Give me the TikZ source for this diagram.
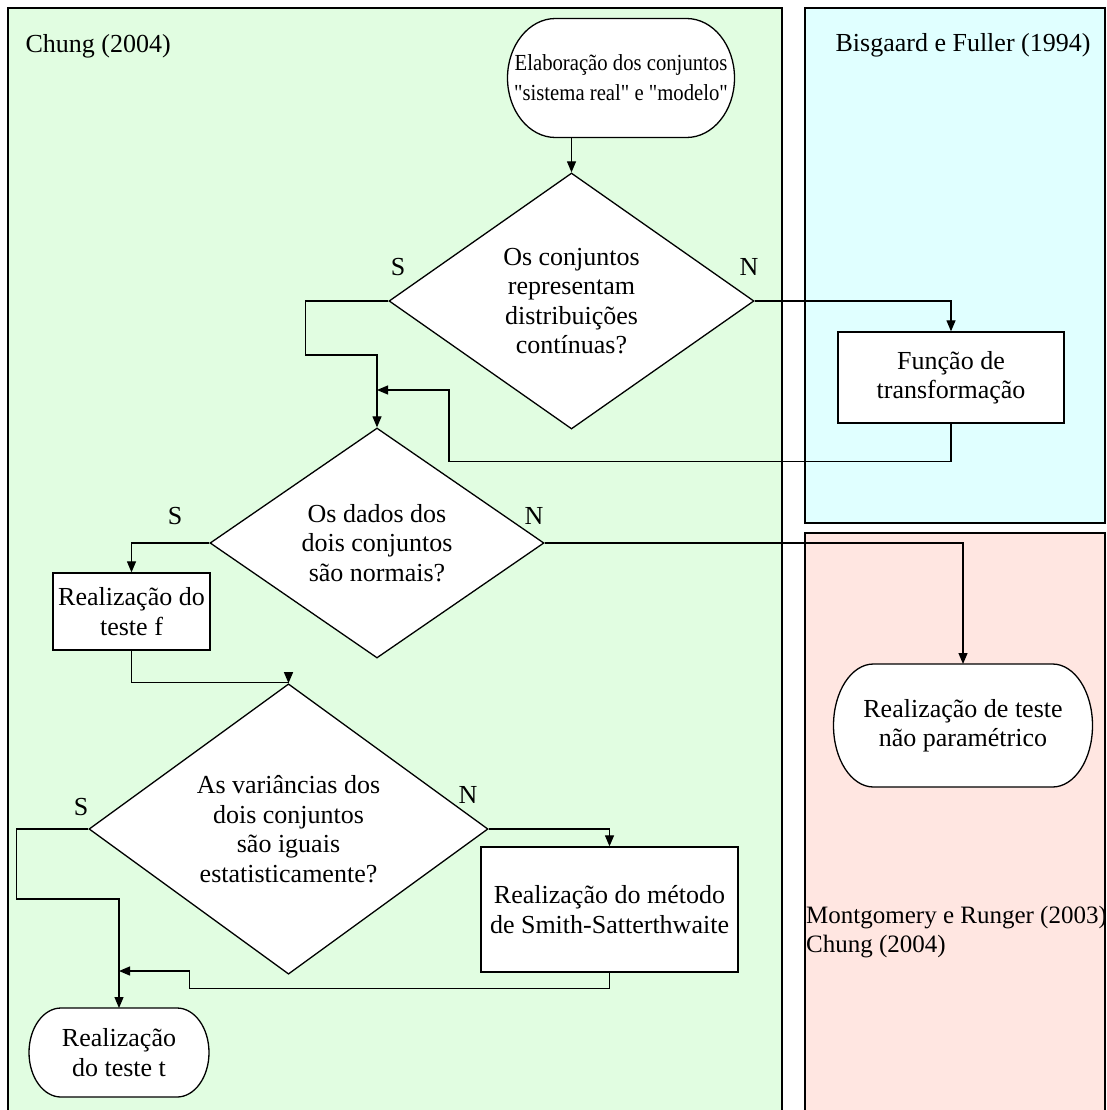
\documentclass[tikz,border=0pt]{standalone}
\usepackage{fontspec}
\setmainfont{Liberation Serif}[Ligatures=TeXOff]
\usetikzlibrary{arrows.meta,shapes.geometric}

\definecolor{panelgreen}{RGB}{225,253,225}
\definecolor{panelcyan}{RGB}{224,255,255}
\definecolor{panelpink}{RGB}{255,230,225}

\begin{document}
\begin{tikzpicture}[x=1pt,y=-1pt,
  every node/.style={font=\fontsize{26}{29.5}\selectfont},
  panel/.style={draw=black, line width=1.4pt},
  decision/.style={diamond, draw, fill=white, line width=1.3pt, inner sep=0pt, align=center},
  process/.style={rectangle, draw, fill=white, line width=1.3pt, inner sep=0pt, align=center},
  % terminator: width, height, horizontal radius of the elliptic ends
  terminal/.style n args={3}{rectangle, inner sep=0pt, outer sep=-1pt, align=center,
    minimum width=#1pt+2pt, minimum height=#2pt+2pt,
    path picture={
      \pgfmathsetmacro{\termry}{#2/2}
      \draw[fill=white, line width=1.3pt]
        ([xshift=#3pt+1pt, yshift=-1pt]path picture bounding box.north west)
        -- ([xshift=-#3pt-1pt, yshift=-1pt]path picture bounding box.north east)
        arc[start angle=90, end angle=-90, x radius=#3pt, y radius=\termry pt]
        -- ([xshift=#3pt+1pt, yshift=1pt]path picture bounding box.south west)
        arc[start angle=270, end angle=90, x radius=#3pt, y radius=\termry pt]
        -- cycle;
    }},
  flow/.style={line width=1.2pt, -{Triangle[length=11pt,width=9pt]}},
  answer/.style={inner sep=0pt},
]
\clip (0,0) rectangle (1106,1110);
\fill[white] (0,0) rectangle (1106,1110);

% swim lanes
\draw[panel, fill=panelgreen] (8,1130) -- (8,8) -- (782,8) -- (782,1130);
\draw[panel, fill=panelcyan] (805,8) rectangle (1105,523);
\draw[panel, fill=panelpink] (805,1130) -- (805,533) -- (1105,533) -- (1105,1130);

\node[anchor=west] (lblchung) at (22,46) {Chung (2004)};
\node (lblbis) at (963,45) {Bisgaard e Fuller (1994)};
\node[anchor=north west, align=left, inner sep=0pt, font=\fontsize{25}{29}\selectfont] (lblmont) at (806,906) {Montgomery e Runger (2003)\\Chung (2004)};

% flow elements
\node[terminal={227}{119}{48}, font=\fontsize{23}{30}\selectfont] (start) at (621,78) {\scalebox{0.9}[1]{Elaboração dos conjuntos}\\\scalebox{0.9}[1]{"sistema real" e "modelo"}};
\node[decision, minimum width=365pt, minimum height=256pt] (d1) at (571.5,301) {Os conjuntos\\representam\\distribuições\\contínuas?};
\node[process, minimum width=226pt, minimum height=91pt] (func) at (951,377.5) {Função de\\transformação};
\node[decision, minimum width=334pt, minimum height=230pt] (d2) at (377,543) {Os dados dos\\dois conjuntos\\são normais?};
\node[process, minimum width=157pt, minimum height=77pt] (boxf) at (131.5,611.5) {Realização do\\teste f};
\node[terminal={259}{123}{40}] (np) at (963,725.5) {Realização de teste\\não paramétrico};
\node[decision, minimum width=399pt, minimum height=264pt] (d3) at (288.5,829) {As variâncias dos\\dois conjuntos\\são iguais\\estatisticamente?};
\node[process, minimum width=257pt, minimum height=125pt] (smith) at (609.5,909.5) {Realização do método\\de Smith-Satterthwaite};
\node[terminal={180}{89}{32}] (tt) at (119,1052.5) {Realização\\do teste t};

% answer labels
\node[answer] (s1) at (398,267) {S};
\node[answer] (n1) at (749,267) {N};
\node[answer] (s2) at (175,516) {S};
\node[answer] (n2) at (534,516) {N};
\node[answer] (s3) at (81,807) {S};
\node[answer] (n3) at (468,795) {N};

% junction points of the return lines
\coordinate (j1) at (377,390);
\coordinate (j2) at (119,971);

% connectors
\draw[flow] (start.south -| d1.north) -- (d1.north);
\draw[flow] (d1.east) -| (func.north);
\draw[flow] (d1.west) -| ++(-83,54) -| (d2.north);
\draw[flow] (func.south) |- ++(-502,38) |- (j1);
\draw[flow] (d2.west) -| (boxf.north);
\draw[flow] (d2.east) -| (np.north);
\draw[flow] (boxf.south) -- ++(0,32) -| (d3.north);
\draw[flow] (d3.east) -| (smith.north);
\draw[flow] (d3.west) -| ++(-72,70) -| (tt.north);
\draw[flow] (smith.south) |- ++(-420,16) |- (j2);
\end{tikzpicture}
\end{document}
